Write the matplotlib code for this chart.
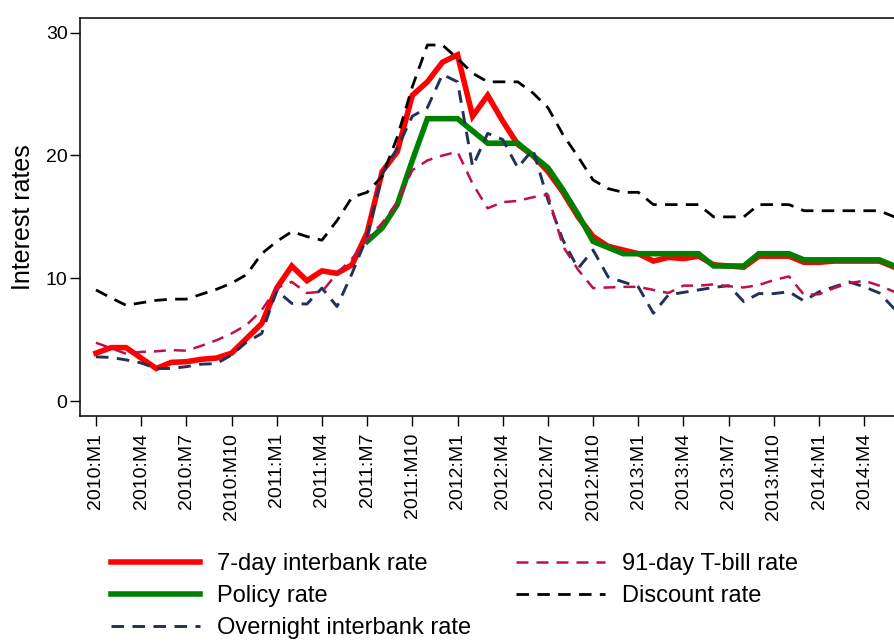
import numpy as np
import matplotlib
matplotlib.use("Agg")
import matplotlib.pyplot as plt

plt.rcParams['font.family'] = ['Liberation Sans', 'DejaVu Sans']

# monthly data, 2010:M1 .. 2014:M6
months = []
for yr in range(2010, 2015):
  for m in range(1, 13):
    months.append(str(yr) + ":M" + str(m))
months = months[:54]

seven_day = [3.9, 4.35, 4.35, 3.5, 2.65, 3.15, 3.2, 3.4, 3.5, 3.9, 5.1, 6.3,
  9.2, 11.0, 9.8, 10.6, 10.4, 11.1, 13.7, 18.7, 20.3, 24.9, 26.0, 27.6,
  28.2, 23.2, 24.9, 22.8, 20.9, 20.0, 18.7, 17.0, 15.0, 13.4, 12.6, 12.3,
  12.0, 11.4, 11.7, 11.6, 11.8, 11.1, 11.0, 10.9, 11.8, 11.8, 11.8, 11.3,
  11.3, 11.4, 11.4, 11.4, 11.4, 10.9]

policy = [np.nan]*18 + [13.0, 14.1, 16.0, 19.6, 23.0, 23.0,
  23.0, 22.0, 21.0, 21.0, 21.0, 20.0, 19.0, 17.2, 15.2, 13.0, 12.5, 12.0,
  12.0, 12.0, 12.0, 12.0, 12.0, 11.0, 11.0, 11.0, 12.0, 12.0, 12.0, 11.5,
  11.5, 11.5, 11.5, 11.5, 11.5, 11.0]

overnight = [3.6, 3.55, 3.35, 3.1, 2.65, 2.65, 2.8, 3.0, 3.05, 3.75, 4.8, 5.5,
  9.0, 7.95, 7.9, 9.2, 7.7, 10.4, 13.4, 18.5, 20.6, 23.2, 23.9, 26.6,
  26.0, 19.1, 21.8, 21.3, 19.0, 20.5, 16.4, 13.1, 10.8, 12.3, 10.1, 9.7,
  9.3, 7.15, 8.65, 8.85, 9.05, 9.25, 9.4, 8.1, 8.75, 8.75, 8.9, 8.15,
  8.9, 9.3, 9.7, 9.3, 8.8, 7.5]

tbill = [4.75, 4.3, 3.85, 4.0, 4.05, 4.15, 4.1, 4.5, 4.95, 5.5, 6.2, 7.4,
  9.2, 9.7, 8.8, 8.9, 10.4, 11.6, 13.2, 14.5, 16.2, 18.8, 19.6, 20.0,
  20.3, 17.7, 15.7, 16.2, 16.3, 16.6, 16.8, 12.6, 10.7, 9.2, 9.25, 9.3,
  9.3, 9.05, 8.8, 9.4, 9.4, 9.5, 9.35, 9.25, 9.45, 9.85, 10.15, 8.65,
  8.7, 9.2, 9.6, 9.8, 9.4, 8.9]

discount = [9.05, 8.4, 7.8, 8.0, 8.2, 8.3, 8.3, 8.7, 9.1, 9.6, 10.3, 12.0,
  13.0, 13.8, 13.4, 13.1, 14.7, 16.6, 17.0, 18.3, 21.5, 25.6, 29.0, 29.0,
  27.9, 26.7, 26.0, 26.0, 26.0, 25.1, 23.9, 21.7, 19.9, 18.0, 17.3, 17.0,
  17.0, 16.0, 16.0, 16.0, 16.0, 15.0, 15.0, 15.0, 16.0, 16.0, 16.0, 15.5,
  15.5, 15.5, 15.5, 15.5, 15.5, 15.0]

x = np.arange(len(months))

fig = plt.figure(figsize=(8.94, 6.42), dpi=100)
ax = fig.add_axes([80/894, 1-416/642, 837/894, 398/642])

ax.plot(x, seven_day, color='#ff0000', lw=4, label='7-day interbank rate', solid_joinstyle='miter')
ax.plot(x, policy, color='#008000', lw=4, label='Policy rate', solid_joinstyle='miter')
ax.plot(x, overnight, color='#22305a', lw=2.1, dashes=(4.3, 2.9), label='Overnight interbank rate')
ax.plot(x, tbill, color='#c01048', lw=1.8, dashes=(4.8, 3.2), label='91-day T-bill rate')
ax.plot(x, discount, color='black', lw=2.0, dashes=(4.5, 3), label='Discount rate')

ax.set_xlim(-1.06, 54.5)
ax.set_ylim(-1.22, 31.2)
ax.set_yticks([0, 10, 20, 30])
ax.set_xticks(x[::3])
ax.set_xticklabels(months[::3], rotation=90, fontsize=14)
ax.tick_params(axis='y', labelsize=14, length=7.5, width=1, pad=1.5)
ax.tick_params(axis='x', length=7, width=1, pad=5)
ax.set_ylabel('Interest rates', fontsize=18, labelpad=8)
for s in ax.spines.values():
  s.set_linewidth(1.1)
ax.spines['right'].set_visible(False)

fig.legend(loc='upper left', bbox_to_anchor=(111/894, 1-553/642), ncol=2,
  frameon=False, fontsize=17, handlelength=3.77, handletextpad=0.72,
  columnspacing=1.9, labelspacing=0.42, borderpad=0, borderaxespad=0)

fig.savefig('out.png', dpi=100)
